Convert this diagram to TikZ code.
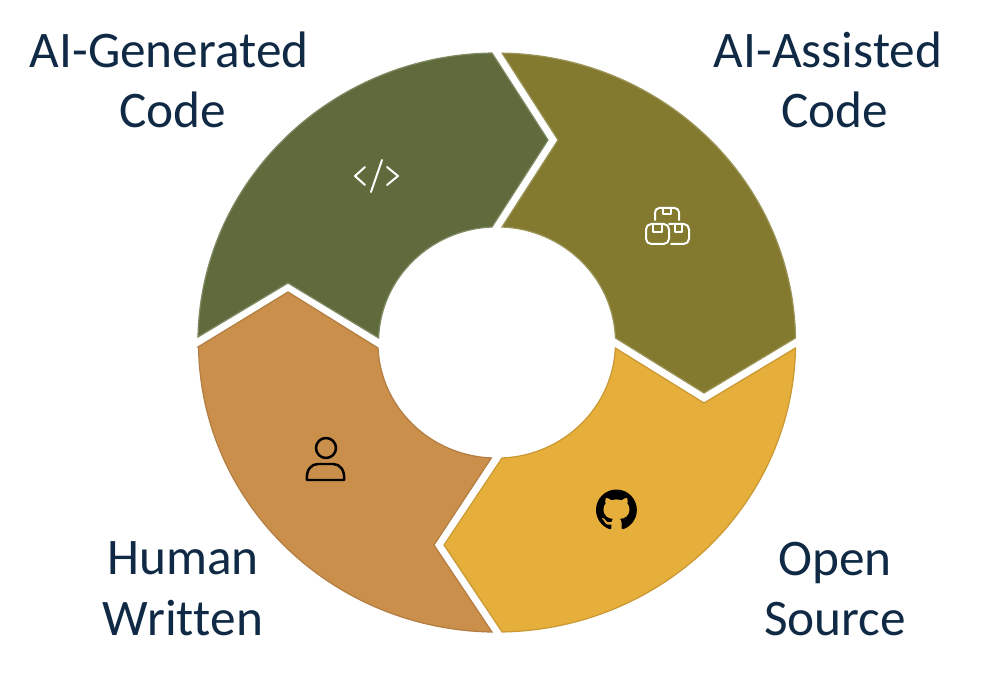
\documentclass[tikz,border=0pt]{standalone}
\usepackage{fontspec}
\setmainfont{Carlito}
\usetikzlibrary{svg.path}
\definecolor{greenseg}{HTML}{5F6B3C}
\definecolor{oliveseg}{HTML}{837A30}
\definecolor{yellowseg}{HTML}{E6AE3A}
\definecolor{orangeseg}{HTML}{CB8F4C}
\definecolor{labelblue}{HTML}{102A45}
\def\ro{298.5 and 289.5}
\def\ri{118.5 and 115.5}
\tikzset{
	seglabel/.style={text=labelblue, align=center, font=\fontsize{29.2}{34.5}\selectfont, inner sep=0pt},
	segment/.style={line width=0.7pt, line join=miter},
	icon/.style={line width=0.4mm, line cap=round, line join=round},
}
\begin{document}
\begin{tikzpicture}[x=0.02cm, y=-0.02cm]
	\useasboundingbox (0, 0) rectangle (990, 678);

	%%%%% SEGMENTS %%%%%
	\draw[segment, fill=greenseg, draw=greenseg!80!white] (492, 53) -- (548, 140) -- (492, 227)
		arc (267.58:182.2:\ri) -- (288, 283) -- (198, 337) arc (181.09:269.04:\ro) -- cycle;
	\draw[segment, fill=oliveseg, draw=oliveseg!80!white] (502, 53) -- (558, 140) -- (502, 227)
		arc (272.42:357.8:\ri) -- (704, 393) -- (795.5, 338) arc (-0.9:-89.04:\ro) -- cycle;
	\draw[segment, fill=yellowseg, draw=yellowseg!88!black] (502, 458) arc (87.58:2.7:\ri)
		-- (704, 403) -- (795.5, 348) arc (1.09:89.04:\ro) -- (444, 545) -- cycle;
	\draw[segment, fill=orangeseg, draw=orangeseg!88!black] (198, 347) -- (288, 292) -- (378, 348)
		arc (177.3:92.42:\ri) -- (434, 545) -- (492, 632) arc (90.96:179.1:\ro) -- cycle;

	%%%%% LABELS %%%%%
	\node[seglabel] (generated) at (173, 80) {AI-Generated\hspace*{4.5pt}\\Code};
	\node[seglabel] (assisted) at (835, 80) {AI-Assisted\hspace*{8pt}\\Code};
	\node[seglabel] (written) at (183, 589) {Human\\Writ\kern0pt ten};
	\node[seglabel] (source) at (835, 589) {Open\\Source};

	%%%%% ICONS %%%%%
	% code
	\draw[icon, white] (365, 167) -- (355, 176) -- (365, 185);
	\draw[icon, white] (382, 160) -- (371, 192);
	\draw[icon, white] (387, 167) -- (398, 176) -- (387, 185);

	% boxes
	\draw[icon, white, rounded corners=2.5] (655, 220) -- (655, 208) -- (679, 208) -- (679, 220);
	\draw[icon, white] (663, 208) -- (663, 214) -- (671, 214) -- (671, 208);
	\draw[icon, white, rounded corners=3] (646, 224) rectangle (669, 244);
	\draw[icon, white] (653, 224) -- (653, 232) -- (662, 232) -- (662, 224);
	\draw[icon, white, rounded corners=3] (669, 224) -- (689, 224) -- (689, 244) -- (671, 244);
	\draw[icon, white] (675, 224) -- (675, 232) -- (682, 232) -- (682, 224);

	% person
	\draw[icon, black, line width=0.5mm] (326, 448) circle (10);
	\draw[icon, black, line width=0.5mm] (307, 480) -- (344, 480) .. controls (345, 470) and (340, 464) .. (333, 464)
		-- (318, 464) .. controls (311, 464) and (306, 470) .. (307, 480) -- cycle;

	% github
	\fill[black, shift={(596, 489.5)}, xscale=1.453, yscale=-1.453] svg {M 8 0 C 3.58 0 0 3.58 0 8 c 0 3.54 2.29 6.53 5.47 7.59 0.4 0.07 0.55 -0.17 0.55 -0.38 0 -0.19 -0.01 -0.82 -0.01 -1.49 -2.01 0.37 -2.53 -0.49 -2.69 -0.94 -0.09 -0.23 -0.48 -0.94 -0.82 -1.13 -0.28 -0.15 -0.68 -0.52 -0.01 -0.53 0.63 -0.01 1.08 0.58 1.23 0.82 0.72 1.21 1.87 0.87 2.33 0.66 0.07 -0.52 0.28 -0.87 0.51 -1.07 -1.78 -0.2 -3.64 -0.89 -3.64 -3.95 0 -0.87 0.31 -1.59 0.82 -2.15 -0.08 -0.2 -0.36 -1.02 0.08 -2.12 0 0 0.67 -0.21 2.2 0.82 0.64 -0.18 1.32 -0.27 2 -0.27 s 1.36 0.09 2 0.27 c 1.53 -1.04 2.2 -0.82 2.2 -0.82 0.44 1.1 0.16 1.92 0.08 2.12 0.51 0.56 0.82 1.28 0.82 2.15 0 3.07 -1.87 3.75 -3.65 3.95 0.29 0.25 0.54 0.73 0.54 1.48 0 1.07 -0.01 1.93 -0.01 2.2 0 0.21 0.15 0.46 0.55 0.38 C 13.71 14.53 16 11.54 16 8 c 0 -4.42 -3.58 -8 -8 -8 z};
\end{tikzpicture}
\end{document}
